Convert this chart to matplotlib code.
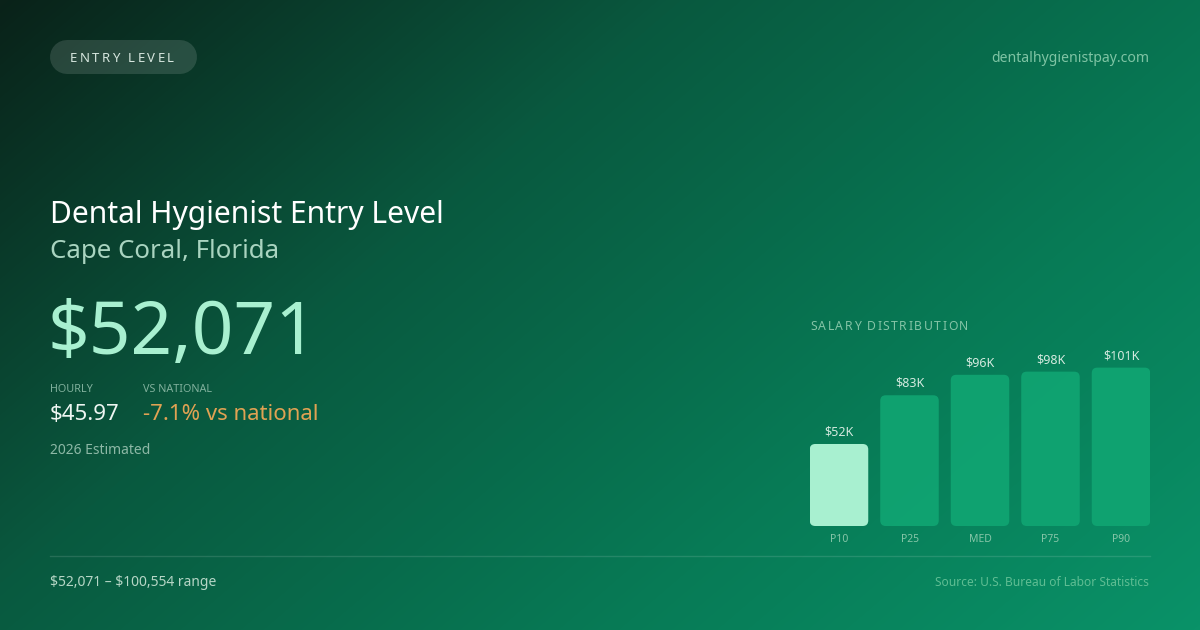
import numpy as np
import matplotlib
matplotlib.use("Agg")
import matplotlib.pyplot as plt
from matplotlib.patches import FancyBboxPatch
from matplotlib.colors import LinearSegmentedColormap

# ---- data ----
categories = ["P10", "P25", "MED", "P75", "P90"]
salaries = [52071, 83000, 96000, 98000, 100554]
bar_labels = ["$52K", "$83K", "$96K", "$98K", "$101K"]
title = "Dental Hygienist Entry Level"
location = "Cape Coral, Florida"
headline = "$52,071"
hourly = "$45.97"
vs_national = "-7.1% vs national"
range_text = "$52,071 \u2013 $100,554 range"

plt.rcParams['font.family'] = ['Noto Sans', 'DejaVu Sans']
plt.rcParams['text.parse_math'] = False

W, H = 1200, 630
fig = plt.figure(figsize=(12, 6.3), dpi=100)

# background gradient
bg = fig.add_axes([0, 0, 1, 1])
bg.set_axis_off()
yy, xx = np.mgrid[0:H, 0:W]
t = (xx / W * 0.62 + yy / H * 0.38)
cmap = LinearSegmentedColormap.from_list("bg", [(0.0, "#0a2219"), (0.35, "#09593f"),
                                                  (0.7, "#077b56"), (1.0, "#0a9268")])
bg.imshow(t, cmap=cmap, extent=[0, W, H, 0], aspect='auto', vmin=0, vmax=1)
bg.set_xlim(0, W)
bg.set_ylim(H, 0)

def spaced(x, y, s, size, color, spacing, ax=bg, **kw):
    r = fig.canvas.get_renderer()
    cx = x
    for ch in s:
        if ch == ' ':
            cx += size * 100 / 72 * 0.26 + spacing
            continue
        tt = ax.text(cx, y, ch, fontsize=size, color=color, va='center', ha='left', **kw)
        bb = tt.get_window_extent(renderer=r)
        cx += bb.width + spacing

# pill (line with round caps gives true semicircle ends)
bg.plot([67, 180], [57, 57], color=(1, 1, 1, 0.13), lw=34 * 72 / 100, solid_capstyle='round')
spaced(70, 59, "ENTRY LEVEL", 9.5, "#d6e6de", 2.4)

bg.text(1149, 59, "dentalhygienistpay.com", fontsize=10.1, color="#7fc4a4", ha='right', va='center')

bg.text(50, 215, title, fontsize=21.6, color="#ffffff", ha='left', va='center')
bg.text(50, 252, location, fontsize=18.6, color="#a9d4c0", ha='left', va='center')
bg.text(47, 335, headline, fontsize=52.5, color="#a8f0d0", ha='left', va='center')

bg.text(50, 389, "HOURLY", fontsize=7.8, color="#80b09c", ha='left', va='center')
bg.text(143, 389, "VS NATIONAL", fontsize=7.8, color="#80b09c", ha='left', va='center')
bg.text(50, 415, hourly, fontsize=16, color="#eef6f2", ha='left', va='center')
bg.text(143, 415, vs_national, fontsize=16, color="#e0a253", ha='left', va='center')
bg.text(50, 451, "2026 Estimated", fontsize=10, color="#8db8a6", ha='left', va='center')

bg.plot([50, 1150], [556, 556], color=(1, 1, 1, 0.12), lw=1)
bg.text(50, 583, range_text, fontsize=10, color="#b6d6c6", ha='left', va='center')
bg.text(1149, 583, "Source: U.S. Bureau of Labor Statistics", fontsize=8.6, color="#5fbd93",
        ha='right', va='center')

spaced(810, 327, "SALARY DISTRIBUTION", 8.8, "#84c4a6", 1.5)

# bar chart axes: pixel x 810..1150, y 526 (baseline) .. 346
unit_px = 70.5
px_per_dollar = 0.001575
ax_left, ax_right = 810, 1150
ax_bottom, ax_top = 526, 346
ax = fig.add_axes([ax_left / W, 1 - ax_bottom / H, (ax_right - ax_left) / W, (ax_bottom - ax_top) / H])
ax.set_axis_off()
ax.patch.set_alpha(0)
x0 = -(839 - 810) / unit_px
ax.set_xlim(x0, x0 + (ax_right - ax_left) / unit_px)
ax.set_ylim(0, (ax_bottom - ax_top) / px_per_dollar)

bw = 58.5 / unit_px
r_x = 5.5 / unit_px
aspect = (1 / px_per_dollar) / (1 / unit_px)
for i, (v, lab) in enumerate(zip(salaries, bar_labels)):
    col = "#a8f0d0" if i == 0 else "#10a572"
    p = FancyBboxPatch((i - bw / 2, 0), bw, v, boxstyle=f"round,pad=0,rounding_size={r_x}",
                       mutation_aspect=aspect, facecolor=col, edgecolor='none', alpha=1 if i == 0 else 0.92)
    ax.add_patch(p)
    ax.annotate(lab, (i, v), xytext=(0, 4), textcoords='offset points', ha='center', va='bottom',
                fontsize=9, color="#d4eadf")
    ax.annotate(categories[i], (i, 0), xytext=(0, -9.5), textcoords='offset points', ha='center',
                va='center', fontsize=7.5, color="#86c6a8", annotation_clip=False)

fig.savefig("out.png", dpi=100)
